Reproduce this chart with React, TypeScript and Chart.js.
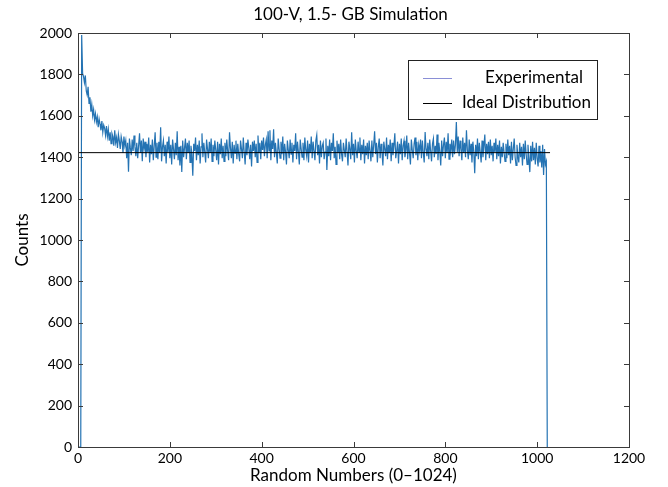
import { useEffect, useRef } from "react";
import { Chart, registerables } from "chart.js";

Chart.register(...registerables);

// ---- data ----
const TITLE = "100-V, 1.5- GB Simulation";
const X_TITLE = "Random Numbers (0\u20131024)";
const Y_TITLE = "Counts";
const SERIES_NAMES = ["Experimental", "Ideal Distribution"];
const BIN_WIDTH = 2; // each value below is read every 2 random numbers
const X_MIN = 0;
const X_MAX = 1200;
const X_STEP = 200;
const Y_MIN = 0;
const Y_MAX = 2000;
const Y_STEP = 200;
const IDEAL_COUNT = 1422;
const IDEAL_RANGE = [0, 1028];

const counts = [
  0, 0, 0, 0, 1990, 1805, 1790, 1760, 1795, 1720, 1700, 1740, 1660, 1690, 1620, 1655,
  1600, 1630, 1580, 1610, 1570, 1595, 1545, 1585, 1560, 1530, 1575, 1520, 1555, 1540, 1505, 1550,
  1500, 1535, 1480, 1520, 1465, 1515, 1500, 1455, 1530, 1470, 1495, 1445, 1510, 1480, 1440, 1500,
  1475, 1420, 1500, 1455, 1480, 1395, 1470, 1330, 1490, 1445, 1410, 1485, 1430, 1505, 1450, 1405,
  1470, 1395, 1455, 1515, 1420, 1480, 1380, 1490, 1440, 1475, 1400, 1465, 1425, 1495, 1375, 1460,
  1415, 1485, 1385, 1455, 1520, 1400, 1470, 1390, 1475, 1420, 1545, 1380, 1450, 1480, 1405, 1460,
  1370, 1475, 1425, 1500, 1395, 1460, 1365, 1485, 1440, 1390, 1470, 1410, 1525, 1385, 1450, 1360,
  1455, 1328, 1480, 1400, 1445, 1490, 1390, 1470, 1420, 1480, 1375, 1455, 1415, 1310, 1465, 1430,
  1495, 1385, 1460, 1410, 1480, 1370, 1450, 1515, 1400, 1470, 1425, 1375, 1485, 1440, 1395, 1475,
  1420, 1490, 1380, 1460, 1405, 1480, 1435, 1385, 1475, 1365, 1465, 1415, 1490, 1395, 1455, 1380,
  1470, 1405, 1485, 1430, 1385, 1520, 1445, 1395, 1475, 1370, 1460, 1420, 1480, 1390, 1465, 1415,
  1380, 1480, 1440, 1395, 1495, 1425, 1365, 1470, 1410, 1485, 1445, 1390, 1460, 1355, 1475, 1430,
  1480, 1400, 1465, 1375, 1505, 1420, 1470, 1390, 1480, 1435, 1495, 1405, 1460, 1485, 1395, 1525,
  1430, 1530, 1385, 1480, 1440, 1535, 1400, 1470, 1420, 1370, 1490, 1440, 1395, 1475, 1415, 1500,
  1385, 1465, 1425, 1365, 1480, 1435, 1395, 1485, 1415, 1470, 1375, 1460, 1430, 1515, 1390, 1475,
  1425, 1365, 1485, 1440, 1400, 1470, 1385, 1495, 1435, 1405, 1480, 1375, 1465, 1420, 1500, 1395,
  1475, 1430, 1385, 1480, 1507, 1410, 1460, 1370, 1480, 1400, 1455, 1470, 1390, 1425, 1490, 1338,
  1455, 1405, 1485, 1385, 1470, 1430, 1515, 1395, 1450, 1365, 1480, 1420, 1465, 1390, 1485, 1415,
  1380, 1470, 1435, 1400, 1490, 1425, 1360, 1475, 1440, 1390, 1520, 1410, 1465, 1375, 1485, 1430,
  1395, 1475, 1425, 1495, 1385, 1460, 1415, 1485, 1370, 1455, 1410, 1470, 1390, 1480, 1430, 1380,
  1480, 1400, 1460, 1525, 1415, 1470, 1375, 1450, 1490, 1395, 1465, 1425, 1360, 1475, 1440, 1405,
  1495, 1390, 1460, 1420, 1485, 1380, 1470, 1410, 1455, 1515, 1395, 1430, 1475, 1370, 1465, 1415,
  1490, 1385, 1455, 1480, 1400, 1430, 1505, 1390, 1470, 1420, 1365, 1485, 1435, 1395, 1465, 1495,
  1410, 1475, 1385, 1460, 1430, 1485, 1395, 1480, 1420, 1375, 1522, 1440, 1405, 1470, 1390, 1485,
  1430, 1380, 1465, 1490, 1400, 1455, 1415, 1510, 1385, 1470, 1425, 1360, 1480, 1405, 1460, 1495,
  1395, 1475, 1420, 1515, 1390, 1465, 1430, 1485, 1400, 1480, 1415, 1460, 1570, 1425, 1500, 1405,
  1480, 1440, 1385, 1495, 1420, 1470, 1400, 1530, 1435, 1390, 1485, 1410, 1465, 1375, 1475, 1425,
  1323, 1460, 1405, 1490, 1390, 1470, 1425, 1375, 1480, 1400, 1455, 1510, 1385, 1465, 1415, 1475,
  1395, 1485, 1410, 1455, 1380, 1470, 1425, 1490, 1390, 1460, 1405, 1480, 1370, 1450, 1400, 1470,
  1420, 1380, 1465, 1395, 1485, 1410, 1455, 1370, 1475, 1385, 1440, 1490, 1400, 1360, 1460, 1405,
  1375, 1470, 1400, 1450, 1360, 1465, 1390, 1480, 1415, 1365, 1460, 1395, 1328, 1455, 1380, 1475,
  1385, 1445, 1365, 1470, 1395, 1355, 1455, 1375, 1430, 1350, 1460, 1314, 1440, 1365, 1380, 0,
];

// ---- styles ----
const FONT = "Lato, 'Open Sans', sans-serif";
const DATA_COLOR = "#2473b3";
const LEGEND_DATA_COLOR = "#8a8fd6";
const FRAME_COLOR = "#3a3a3a";

const framePlugin = {
  id: "frameTicks",
  afterDraw(chart: any) {
    const { ctx, chartArea } = chart;
    const { left, right, top, bottom } = chartArea;
    const xs = chart.scales.x;
    const ys = chart.scales.y;
    const TL = 5;
    ctx.save();
    ctx.strokeStyle = FRAME_COLOR;
    ctx.lineWidth = 1;
    ctx.beginPath();
    xs.ticks.forEach((t: any) => {
      const px = Math.round(xs.getPixelForValue(t.value)) + 0.5;
      ctx.moveTo(px, bottom);
      ctx.lineTo(px, bottom - TL);
      ctx.moveTo(px, top);
      ctx.lineTo(px, top + TL);
    });
    ys.ticks.forEach((t: any) => {
      const py = Math.round(ys.getPixelForValue(t.value)) + 0.5;
      ctx.moveTo(left, py);
      ctx.lineTo(left + TL, py);
      ctx.moveTo(right, py);
      ctx.lineTo(right - TL, py);
    });
    ctx.stroke();
    ctx.strokeRect(Math.round(left) + 0.5, Math.round(top) + 0.5, Math.round(right - left), Math.round(bottom - top));

    // title
    ctx.fillStyle = "#000";
    ctx.font = `17px ${FONT}`;
    ctx.textAlign = "center";
    ctx.textBaseline = "middle";
    ctx.fillText(TITLE, (left + right) / 2 - 3, top - 18);

    // legend box
    const bx = right - 221;
    const by = top + 27;
    const bw = 189;
    const bh = 59;
    ctx.fillStyle = "#fff";
    ctx.fillRect(bx, by, bw, bh);
    ctx.strokeStyle = "#222";
    ctx.strokeRect(bx + 0.5, by + 0.5, bw, bh);
    const rows = [
      { name: SERIES_NAMES[0], color: LEGEND_DATA_COLOR, textRight: bx + 175, y: by + 18 },
      { name: SERIES_NAMES[1], color: "#000", textRight: bx + 183, y: by + 43 },
    ];
    ctx.font = `17px ${FONT}`;
    ctx.textAlign = "right";
    rows.forEach((r) => {
      ctx.strokeStyle = r.color;
      ctx.beginPath();
      ctx.moveTo(bx + 15, r.y + 0.5);
      ctx.lineTo(bx + 44, r.y + 0.5);
      ctx.stroke();
      ctx.fillStyle = "#000";
      ctx.fillText(r.name, r.textRight, r.y);
    });
    ctx.restore();
  },
};

export default function App() {
  const ref = useRef<HTMLCanvasElement | null>(null);
  useEffect(() => {
    document.body.style.margin = "0";
    const canvas = ref.current;
    if (!canvas) return;
    const expData = counts.map((c, i) => ({ x: i * BIN_WIDTH, y: c }));
    const idealData = IDEAL_RANGE.map((x) => ({ x, y: IDEAL_COUNT }));
    const chart = new Chart(canvas, {
      type: "line",
      data: {
        datasets: [
          {
            label: SERIES_NAMES[1],
            data: idealData,
            borderColor: "#000",
            borderWidth: 1,
            pointRadius: 0,
            order: 0,
          },
          {
            label: SERIES_NAMES[0],
            data: expData,
            borderColor: DATA_COLOR,
            borderWidth: 1.2,
            pointRadius: 0,
            tension: 0,
            order: 1,
          },
        ],
      },
      options: {
        animation: false,
        responsive: false,
        devicePixelRatio: 1,
        layout: { padding: { top: 33, right: 39, left: 0, bottom: 0 } },
        plugins: { legend: { display: false }, tooltip: { enabled: false } },
        scales: {
          x: {
            type: "linear",
            min: X_MIN,
            max: X_MAX,
            ticks: {
              stepSize: X_STEP,
              color: "#000",
              padding: 3,
              maxRotation: 0,
              font: { family: FONT, size: 14 },
              callback: (v: any) => String(v),
            },
            grid: { display: false, drawTicks: false },
            border: { display: false },
            title: { display: true, text: X_TITLE, color: "#000", font: { family: FONT, size: 17 }, padding: { top: 0, bottom: 1 } },
            afterFit: (s: any) => { s.height = 40; },
          },
          y: {
            type: "linear",
            min: Y_MIN,
            max: Y_MAX,
            ticks: {
              stepSize: Y_STEP,
              color: "#000",
              padding: 6,
              font: { family: FONT, size: 14 },
              callback: (v: any) => String(v),
            },
            grid: { display: false, drawTicks: false },
            border: { display: false },
            title: { display: true, text: Y_TITLE, color: "#000", font: { family: FONT, size: 17 }, padding: { top: 12, bottom: 0 } },
            afterFit: (s: any) => { s.width = 78; },
          },
        },
      },
      plugins: [framePlugin],
    });
    return () => chart.destroy();
  }, []);
  return (
    <div style={{ position: "fixed", left: 0, top: 0, width: 668, height: 487, background: "#fff" }}>
      <canvas ref={ref} width={668} height={487} />
    </div>
  );
}
